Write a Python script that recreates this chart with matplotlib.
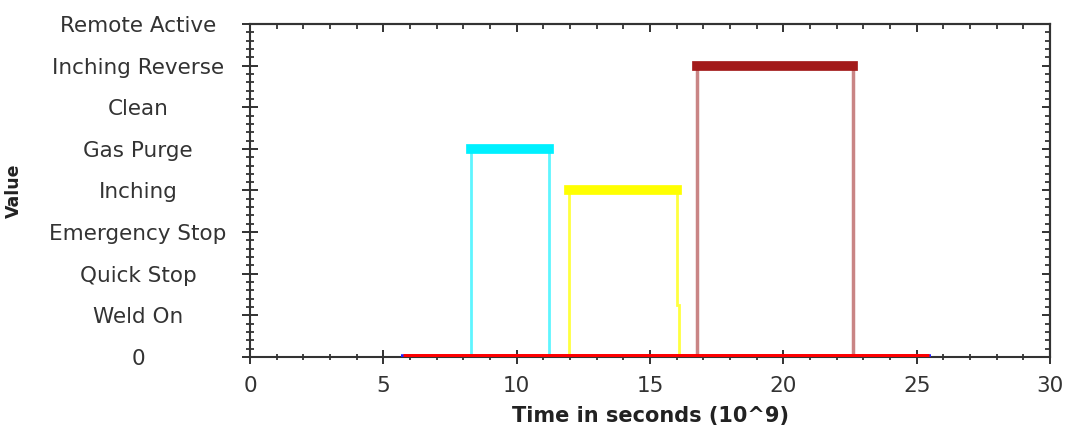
import matplotlib.pyplot as plt
from matplotlib.ticker import MultipleLocator

plt.rcParams['font.family'] = ['DejaVu Sans']

# state names on the y axis (level 0..8)
state_labels = ["0", "Weld On", "Quick Stop", "Emergency Stop", "Inching",
                "Gas Purge", "Clean", "Inching Reverse", "Remote Active"]

# baseline signal (value 0)
base_blue_x = [5.68, 25.55]
base_red_x = [5.74, 25.48]
base_y = [0, 0]

# Gas Purge pulse (level 5)
purge_x = [8.27, 8.27, 11.23, 11.23]
purge_y = [0, 5, 5, 0]

# Inching pulse (level 4), small jog on the falling edge
inch_x = [11.97, 11.97, 16.0, 16.0, 16.08, 16.08]
inch_y = [0, 4, 4, 1.25, 1.25, 0]

# Inching Reverse pulse (level 7)
rev_x = [16.78, 16.78, 22.63, 22.63]
rev_y = [0, 7, 7, 0]

fig = plt.figure(figsize=(10.72, 4.29), dpi=100)
ax = fig.add_axes([0.2332, 0.168, 0.7463, 0.776])

# thin edges
ax.plot(purge_x, purge_y, color="#5ff5ff", lw=2, solid_joinstyle="miter")
ax.plot(inch_x, inch_y, color="#ffff40", lw=2, solid_joinstyle="miter")
ax.plot(rev_x, rev_y, color="#c98585", lw=2.5, solid_joinstyle="miter")

# thick plateaus
ax.plot(purge_x[1:3], purge_y[1:3], color="#00f0ff", lw=7, solid_capstyle="projecting")
ax.plot(inch_x[1:3], inch_y[1:3], color="#ffff00", lw=7, solid_capstyle="projecting")
ax.plot(rev_x[1:3], rev_y[1:3], color="#a31a1a", lw=7, solid_capstyle="projecting")

ax.plot(base_blue_x, base_y, color="#2020ff", lw=4, solid_capstyle="butt", zorder=3)
ax.plot(base_red_x, base_y, color="#ff0000", lw=5, solid_capstyle="butt", zorder=4)

ax.set_xlim(0, 30)
ax.set_ylim(0, 8)
ax.set_yticks(range(len(state_labels)))
ax.set_yticklabels(state_labels, ha="center")
ax.xaxis.set_major_locator(MultipleLocator(5))
ax.xaxis.set_minor_locator(MultipleLocator(1))
ax.yaxis.set_minor_locator(MultipleLocator(0.2))

ax.tick_params(axis="both", which="both", direction="inout", colors="#222222",
               labelsize=15.5, labelcolor="#333333")
ax.tick_params(axis="x", which="major", length=10, width=1.3, pad=9)
ax.tick_params(axis="x", which="minor", length=5, width=1.2)
ax.tick_params(axis="y", which="major", length=11, width=1.3, pad=75)
ax.tick_params(axis="y", which="minor", length=6, width=1.2)

# top and right: inward ticks only, no labels
top = ax.secondary_xaxis("top")
top.xaxis.set_major_locator(MultipleLocator(5))
top.xaxis.set_minor_locator(MultipleLocator(1))
top.tick_params(which="both", direction="in", labeltop=False, colors="#222222")
top.tick_params(which="major", length=6, width=1.3)
top.tick_params(which="minor", length=3.5, width=1.2)

right = ax.secondary_yaxis("right")
right.set_yticks(range(len(state_labels)))
right.yaxis.set_minor_locator(MultipleLocator(0.2))
right.tick_params(which="both", direction="in", labelright=False, colors="#222222")
right.tick_params(which="major", length=6, width=1.3)
right.tick_params(which="minor", length=3.5, width=1.2)

for a in [ax, top, right]:
    for side in a.spines:
        a.spines[side].set_linewidth(1.5)
        a.spines[side].set_color("#333333")

ax.set_xlabel("Time in seconds (10^9)", fontsize=15, fontweight="bold", color="#222222", labelpad=7)
ax.set_ylabel("Value", fontsize=12.5, fontweight="bold", color="#222222", labelpad=19)

plt.savefig("out.png", dpi=100)
